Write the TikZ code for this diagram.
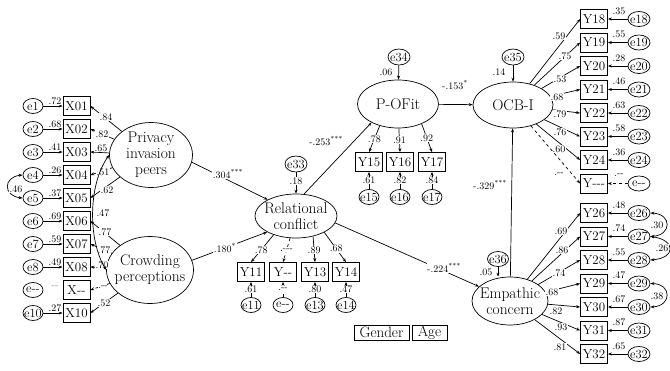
\documentclass[tikz,border=0pt]{standalone}
\usepackage{tikz}
\usetikzlibrary{arrows.meta, positioning, shapes.geometric}
\tikzset{%
	latent/.style={
		ellipse,
		draw,
		inner sep=0pt,
		label={[align=center, font=\fontsize{15.5}{16}\selectfont]center:#1}
	},
	observed/.style={
		rectangle,
		draw,
		minimum width=27pt,
		minimum height=19pt,
		inner sep=0.5pt,
		font=\fontsize{13}{14}\selectfont
	},
	error/.style={
		ellipse,
		draw,
		minimum width=20pt,
		minimum height=15pt,
		inner sep=0pt,
		label={[font=\fontsize{12.5}{12}\selectfont]center:#1}
	},
	coef/.style={fill=white, inner sep=0.5pt, font=\fontsize{10}{10}\selectfont},
	effect/.style={-{Stealth[length=4pt,width=3pt]}},
	cov/.style={{Stealth[length=4pt,width=3pt]}-{Stealth[length=4pt,width=3pt]}},
}

\begin{document}
\begin{tikzpicture}[x=1pt, y=-1pt, line width=0.7pt]
	\useasboundingbox (0,0) rectangle (670,370);

	% Draw the latent factors
	\node[latent={Privacy\\invasion\\peers}, minimum width=83pt, minimum height=65pt] (piv) at (151,155) {};
	\node[latent={Crowding\\perceptions}, minimum width=87pt, minimum height=67pt] (crow) at (150,270) {};
	\node[latent={Relational\\conflict}, minimum width=82pt, minimum height=44pt] (rc) at (296,216) {};
	\node[latent={P-OFit}, minimum width=81pt, minimum height=48pt] (pof) at (398,104) {};
	\node[latent={OCB-I}, minimum width=80pt, minimum height=46pt] (ocb) at (513,105) {};
	\node[latent={Empathic\\concern}, minimum width=76pt, minimum height=48pt] (emp) at (510,301) {};

	% Draw the left indicators with their errors
	\foreach \k/\yy/\xt/\et/\ev in {1/106/X01/e1/.72, 2/129/X02/e2/.68, 3/152/X03/e3/.41, 4/175/X04/e4/.26, 5/198/X05/e5/.37, 6/221/X06/e6/.69, 7/244/X07/e7/.59, 8/267/X08/e8/.49, 10/313/X10/e10/.27}
	{
		\node[observed] (x\k) at (76.5,\yy) {\xt};
		\node[error=\et] (ex\k) at (33,\yy) {};
		\draw[effect] (ex\k) -- (x\k);
		\node[coef] (cx\k) at (55,\yy-5) {\ev};
	}
	\node[observed] (x9) at (76.5,290) {X-{}-};
	\node[error={e-{}-}] (ex9) at (33,290) {};
	\node[coef, text=gray] (cx9) at (55,287) {-{}-};

	% Draw the loadings of the two exogenous factors
	\foreach \k/\lx/\ly/\lv in {1/106/117/.84, 2/102/134/.82, 3/101/148/.65, 4/103/172/.51, 5/107/190/.62}
	{
		\draw[effect] (piv) -- (x\k.east);
		\node[coef] (lx\k) at (\lx,\ly) {\lv};
	}
	\foreach \k/\lx/\ly/\lv in {6/105/232/.77, 7/104/250/.77, 8/102/265/.70, 10/104/303/.52}
	{
		\draw[effect] (crow) -- (x\k.east);
		\node[coef] (lx\k) at (\lx,\ly) {\lv};
	}
	\draw[effect, dashed] (crow) -- (x9.east);
	\node[coef] (lx9) at (103,287) {.-{}-};

	% Draw the covariances on the left
	\draw[cov] (piv.west) .. controls (88,185) and (88,240) .. (crow.west);
	\node[coef] (c47) at (103,213) {.47};
	\draw[cov] (ex4.west) .. controls (3,177) and (3,196) .. (ex5.west);
	\node[coef] (c46) at (16,189) {.46};

	% Draw the indicators of relational conflict
	\node[error=e33, minimum width=22pt, minimum height=16pt] (e33) at (296,164) {};
	\draw[effect] (e33) -- (rc);
	\node[coef] (c33) at (296,181) {.18};
	\foreach \k/\xx/\an/\lv/\ev in {11/251/-140/.78/.61, 13/315/-50/.89/.80, 14/346/-30/.68/.47}
	{
		\node[observed] (y\k) at (\xx,272) {Y\k};
		\node[error=e\k] (ey\k) at (\xx,305) {};
		\draw[effect] (rc.\an) -- node[coef, pos=.55] (l\k) {\lv} (y\k.north);
		\draw[effect] (ey\k) -- node[coef] (m\k) {\ev} (y\k);
	}
	\node[observed] (y12) at (283,272) {Y-{}-};
	\node[error={e-{}-}] (ey12) at (283,305) {};
	\draw[effect, dashed] (rc.-105) -- node[coef] (l12) {.-{}-{}-} (y12.north);
	\draw[effect, dashed] (ey12) -- node[coef] (m12) {.-{}-} (y12);

	% Draw the indicators of P-O fit
	\node[error=e34, minimum width=22pt, minimum height=16pt] (e34) at (399,57) {};
	\draw[effect] (e34) -- (pof);
	\node[coef] (c34) at (386,72) {.06};
	\foreach \k/\xx/\an/\lv/\ev in {15/369/-130/.78/.61, 16/400/-88/.91/.82, 17/432/-40/.92/.84}
	{
		\node[observed] (y\k) at (\xx,162) {Y\k};
		\node[error=e\k] (ey\k) at (\xx,197) {};
		\draw[effect] (pof.\an) -- node[coef] (l\k) {\lv} (y\k.north);
		\draw[effect] (ey\k) -- node[coef] (m\k) {\ev} (y\k);
	}

	% Draw the indicators of OCB-I
	\node[error=e35, minimum width=22pt, minimum height=16pt] (e35) at (513,57) {};
	\draw[effect] (e35) -- (ocb);
	\node[coef] (c35) at (499,72) {.14};
	\foreach \k/\yy/\lx/\ly/\lv/\ev in {18/19/559/36/.59/.35, 19/42.5/565/56/.75/.55, 20/66/560/79/.53/.28, 21/89.5/557/97/.68/.46, 22/113/560/114/.79/.63, 23/136.5/560/132/.76/.58, 24/160/559/149/.60/.36}
	{
		\node[observed] (y\k) at (594,\yy) {Y\k};
		\node[error=e\k, minimum width=22pt] (e\k) at (639,\yy) {};
		\draw[effect] (ocb) -- (y\k.west);
		\draw[effect] (e\k) -- (y\k);
		\node[coef] (l\k) at (\lx,\ly) {\lv};
		\node[coef] (m\k) at (619,\yy-8) {\ev};
	}
	\node[observed] (y25) at (594,183.5) {Y-{}-{}-};
	\node[error={e-{}-}, minimum width=22pt] (e25) at (639,183.5) {};
	\draw[effect, dashed] (ocb) -- (y25.west);
	\draw[effect, dashed] (e25) -- (y25);
	\node[coef] (l25) at (559,174) {.-{}-};
	\node[coef] (m25) at (619,175.5) {.-{}-};

	% Draw the indicators of empathic concern
	\node[error=e36, minimum width=21pt, minimum height=15pt] (e36) at (498,259) {};
	\draw[effect] (e36) -- (e36 |- emp.north);
	\node[coef] (c36) at (486,272) {.05};
	\foreach \k/\yy/\lx/\ly/\lv/\ev in {26/213/561/231/.69/.48, 27/236.5/562/250/.86/.74, 28/260/559/273/.74/.55, 29/283.5/552/292/.68/.47, 30/307/556/311/.82/.67, 31/330.5/561/327/.93/.87, 32/354/560/347/.81/.65}
	{
		\node[observed] (y\k) at (594,\yy) {Y\k};
		\node[error=e\k, minimum width=22pt] (e\k) at (639,\yy) {};
		\draw[effect] (emp) -- (y\k.west);
		\draw[effect] (e\k) -- (y\k);
		\node[coef] (l\k) at (\lx,\ly) {\lv};
		\node[coef] (m\k) at (619,\yy-8) {\ev};
	}

	% Draw the error covariances on the right
	\draw[cov] (e26.east) .. controls (672,214) and (672,235) .. (e27.east);
	\node[coef] (c30) at (657,225) {.30};
	\draw[cov] (e27.east) .. controls (676,240) and (676,258) .. (e28.east);
	\node[coef] (c26) at (662,248) {.26};
	\draw[cov] (e29.east) .. controls (672,284) and (672,306) .. (e30.east);
	\node[coef] (c38) at (657,296) {.38};

	% Draw the structural paths
	\draw[effect] (piv.-10) -- (rc.150);
	\node[coef] (b304) at (228,174) {.304\textsuperscript{***}};
	\draw[effect] (crow.13) -- (rc.209);
	\node[coef] (b180) at (225,248) {.180\textsuperscript{*}};
	\draw[effect] (rc.70) -- (pof.215);
	\node[coef] (b253) at (326,141) {-.253\textsuperscript{***}};
	\draw[effect] (rc.-10) -- (emp.155);
	\node[coef] (b224) at (444,268) {-.224\textsuperscript{***}};
	\draw[effect] (pof) -- (ocb);
	\node[coef] (b153) at (455,85) {-.153\textsuperscript{*}};
	\draw[effect] (emp) -- (ocb);
	\node[coef] (b329) at (490,185) {-.329\textsuperscript{***}};

	% Draw the control variables
	\node[observed, minimum width=55pt, minimum height=15pt, font=\fontsize{15}{15}\selectfont] (gender) at (381.5,332.5) {Gender};
	\node[observed, minimum width=35pt, minimum height=15pt, font=\fontsize{15}{15}\selectfont] (age) at (429.5,332.5) {Age};
\end{tikzpicture}
\end{document}
